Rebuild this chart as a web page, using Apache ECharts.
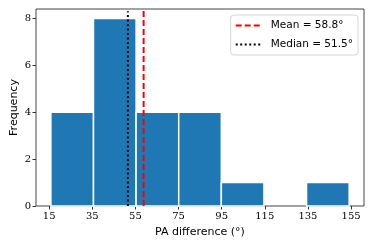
<!DOCTYPE html>
<html>
<head>
<meta charset="utf-8">
<script src="https://cdn.jsdelivr.net/npm/echarts@6/dist/echarts.min.js"></script>
<style>html,body{margin:0;padding:0;background:#fff}#c{width:374px;height:249px}</style>
</head>
<body>
<div id="c"></div>
<script>
// Histogram data
const binEdges = [15.8, 35.56, 55.32, 75.08, 94.84, 114.6, 134.36, 154.12];
const counts = [4, 8, 4, 4, 1, 0, 1];
const xTicks = [15, 35, 55, 75, 95, 115, 135, 155];
const yTicks = [0, 2, 4, 6, 8];
const meanVal = 58.8;
const medianVal = 51.5;

const bars = counts.map((c, i) => [binEdges[i], binEdges[i + 1], c]);

const chart = echarts.init(document.getElementById('c'), null, {renderer: 'canvas'});
const serif = '"DejaVu Serif", "Liberation Serif", serif';
const sans = '"DejaVu Sans", sans-serif';

chart.setOption({
  animation: false,
  grid: {left: 36, right: 10, top: 9, bottom: 43, containLabel: false, outerBoundsMode: 'none',
         show: true, borderColor: '#444', borderWidth: 1, backgroundColor: 'transparent'},
  xAxis: {
    type: 'value', min: 8.9, max: 161,
    name: 'PA difference (°)', nameLocation: 'middle', nameGap: 21, nameMoveOverlap: false,
    nameTextStyle: {fontFamily: sans, fontSize: 11, color: '#000'},
    axisLine: {show: false},
    axisTick: {show: true, length: 3.5, customValues: xTicks, lineStyle: {color: '#333'}},
    axisLabel: {customValues: xTicks, fontFamily: serif, fontSize: 10, color: '#000', margin: 5},
    splitLine: {show: false}
  },
  yAxis: {
    type: 'value', min: 0, max: 8.4,
    name: 'Frequency', nameLocation: 'middle', nameGap: 16, nameMoveOverlap: false,
    nameTextStyle: {fontFamily: sans, fontSize: 11, color: '#000'},
    axisLine: {show: false},
    axisTick: {show: true, length: 3.5, customValues: yTicks, lineStyle: {color: '#333'}},
    axisLabel: {customValues: yTicks, fontFamily: serif, fontSize: 10, color: '#000', margin: 5},
    splitLine: {show: false}
  },
  legend: {
    orient: 'vertical', right: 16, top: 15,
    data: ['Mean = 58.8°', 'Median = 51.5°'],
    itemWidth: 25, itemHeight: 10, itemGap: 8,
    padding: [5, 5, 5, 4],
    borderColor: '#d5d5d5', borderWidth: 1, borderRadius: 3,
    backgroundColor: 'rgba(255,255,255,0.8)',
    itemStyle: {opacity: 0},
    textStyle: {fontFamily: sans, fontSize: 10.5, color: '#000', padding: [0, 0, 0, 5]}
  },
  series: [
    {
      type: 'custom',
      data: bars,
      encode: {x: [0, 1], y: 2},
      renderItem: function (params, api) {
        if (api.value(2) <= 0) return null;
        const p0 = api.coord([api.value(0), 0]);
        const p1 = api.coord([api.value(1), api.value(2)]);
        return {
          type: 'rect',
          shape: {x: p0[0], y: p1[1], width: p1[0] - p0[0], height: p0[1] - p1[1]},
          style: {fill: '#1f77b4', stroke: '#ffffff', lineWidth: 1.5}
        };
      },
      z: 2
    },
    {
      name: 'Mean = 58.8°', type: 'line', symbol: 'none',
      data: [[meanVal, 0], [meanVal, 8.4]],
      lineStyle: {color: '#ff0000', width: 2, type: [6, 3]},
      itemStyle: {color: '#ff0000'},
      z: 3
    },
    {
      name: 'Median = 51.5°', type: 'line', symbol: 'none',
      data: [[medianVal, 0], [medianVal, 8.3]],
      lineStyle: {color: '#000000', width: 2, type: [2, 2.5]},
      itemStyle: {color: '#000000'},
      z: 3
    }
  ]
});
</script>
</body>
</html>
